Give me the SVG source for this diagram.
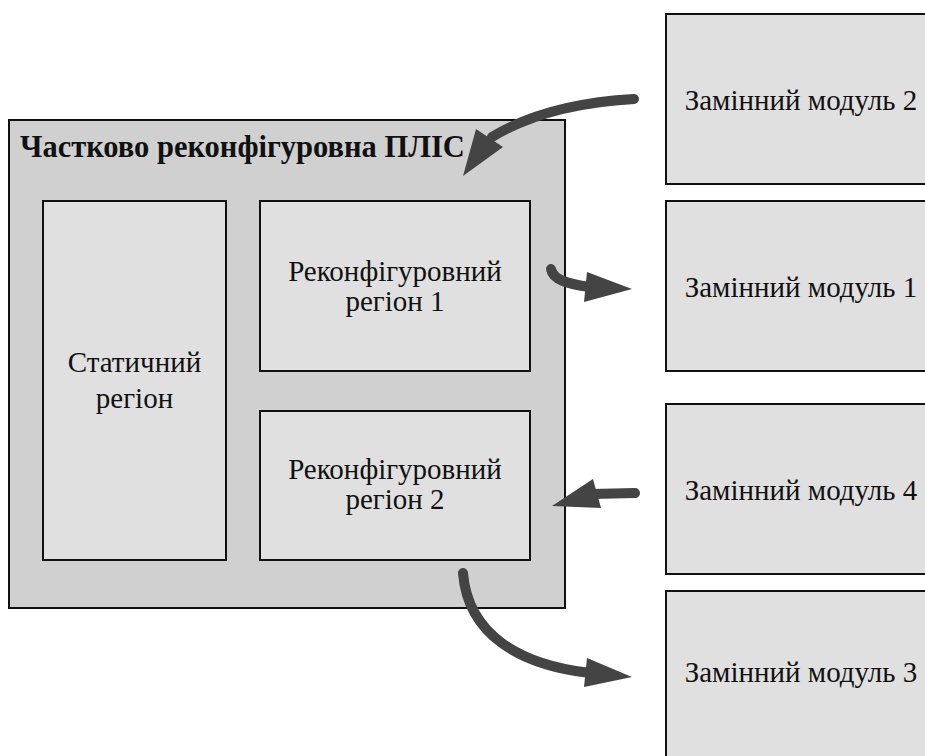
<svg xmlns="http://www.w3.org/2000/svg" width="925" height="756" viewBox="0 0 925 756">
<style>
.outer{fill:#d0d0d0;stroke:#111;stroke-width:2}
.box{fill:#e0e0e0;stroke:#111;stroke-width:2}
.t{font-family:"Liberation Serif","Times New Roman",serif;font-size:29px;fill:#111;text-anchor:middle}
.title{font-family:"Liberation Serif","Times New Roman",serif;font-size:30.5px;font-weight:bold;fill:#111}
.arr{fill:none;stroke:#444;stroke-width:10;stroke-linecap:round}
.head{fill:#444}
</style>
<rect width="925" height="756" fill="#fff"/>
<g id="fpga">
<rect class="outer" x="9" y="120" width="556" height="488"/>
<text class="title" x="20" y="157">Частково реконфігуровна ПЛІС</text>
</g>
<g id="static">
<rect class="box" x="43" y="201" width="183" height="359"/>
<text class="t" x="134.5" y="372">Статичний</text>
<text class="t" x="134.5" y="408">регіон</text>
</g>
<g id="rr1">
<rect class="box" x="260" y="201" width="270" height="170"/>
<text class="t" x="395" y="281">Реконфігуровний</text>
<text class="t" x="395" y="311">регіон 1</text>
</g>
<g id="rr2">
<rect class="box" x="260" y="411" width="270" height="149"/>
<text class="t" x="395" y="479">Реконфігуровний</text>
<text class="t" x="395" y="509">регіон 2</text>
</g>
<g id="m2">
<rect class="box" x="666" y="14" width="270" height="170"/>
<text class="t" x="801" y="110">Замінний модуль 2</text>
</g>
<g id="m1">
<rect class="box" x="666" y="201" width="270" height="170"/>
<text class="t" x="801" y="297">Замінний модуль 1</text>
</g>
<g id="m4">
<rect class="box" x="666" y="404" width="270" height="170"/>
<text class="t" x="801" y="500">Замінний модуль 4</text>
</g>
<g id="m3">
<rect class="box" x="666" y="591" width="270" height="180"/>
<text class="t" x="801" y="682">Замінний модуль 3</text>
</g>
<g id="connectors">
<path class="arr" d="M634,99 C580,102 530,114 492,137"/>
<polygon class="head" points="476,129 503,147 463,176"/>
<path class="arr" d="M551,269 C553,280 568,284 590,287"/>
<polygon class="head" points="587,272 584,302 632,289"/>
<path class="arr" d="M635,493 L592,494"/>
<polygon class="head" points="593,479 601,508 552,506"/>
<path class="arr" d="M463,573 C468,635 520,665 590,673"/>
<polygon class="head" points="587,658 584,687 632,677"/>
</g>
</svg>
